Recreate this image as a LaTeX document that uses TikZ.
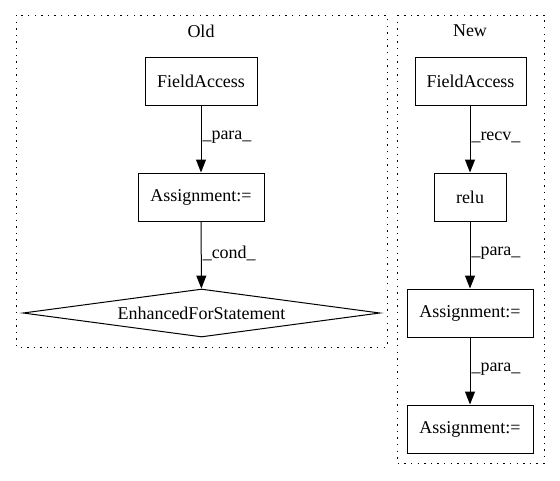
\documentclass[tikz,border=0pt]{standalone}
\usepackage{fontspec}
\setmainfont{Liberation Serif}
\usetikzlibrary{arrows.meta,shapes.geometric}
\begin{document}
\begin{tikzpicture}[x=1pt,y=-1pt,
  every node/.style={font=\fontsize{18}{20}\selectfont},
  box/.style={draw, line width=1pt, rectangle, minimum height=48pt, inner sep=0pt},
  cond/.style={draw, line width=1pt, diamond, aspect=7.4, inner sep=0pt, minimum width=357pt, minimum height=48pt},
  cluster/.style={draw, line width=1pt, dash pattern=on 1.4pt off 5.2pt},
  edge/.style={line width=1pt, -{Triangle[length=13pt,width=10pt]}},
  lbl/.style={anchor=west, inner sep=1pt, yshift=2pt}]
\useasboundingbox (0,0) rectangle (560,480);
% clusters
\draw[cluster] (16,15) rectangle (387,347);
\draw[cluster] (397,15) rectangle (544,463);
\node (oldt) at (201,31) {Old};
\node (newt) at (470,31) {New};
% Old
\node[box, minimum width=112pt] (ofa) at (201,81) {FieldAccess};
\node[box, minimum width=126pt] (oas) at (201,197) {Assignment:=};
\node[cond] (ofor) at (201.5,313) {EnhancedForStatement};
\draw[edge] (ofa) -- node[lbl] {\_para\_} (oas);
\draw[edge] (oas) -- node[lbl] {\_cond\_} (ofor);
% New
\node[box, minimum width=111pt] (nfa) at (470.5,81) {FieldAccess};
\node[box, minimum width=72pt] (nrelu) at (470,197) {relu};
\node[box, minimum width=126pt] (nas1) at (470,313) {Assignment:=};
\node[box, minimum width=126pt] (nas2) at (470,429) {Assignment:=};
\draw[edge] (nfa.south -| nrelu) -- node[lbl] {\_recv\_} (nrelu);
\draw[edge] (nrelu) -- node[lbl] {\_para\_} (nas1);
\draw[edge] (nas1) -- node[lbl] {\_para\_} (nas2);
\end{tikzpicture}
\end{document}
